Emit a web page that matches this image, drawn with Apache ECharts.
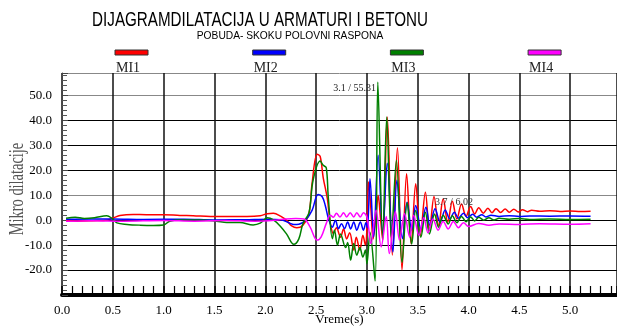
<!DOCTYPE html>
<html>
<head>
<meta charset="utf-8">
<script src="https://cdn.jsdelivr.net/npm/echarts@6/dist/echarts.min.js"></script>
<style>
  html, body { margin: 0; padding: 0; background: #fff; }
  #main { width: 617px; height: 327px; }
</style>
</head>
<body>
<div id="main"></div>
<script>
// naslov i legenda
var title = 'DIJAGRAMDILATACIJA U ARMATURI I BETONU';
var subtitle = 'POBUDA- SKOKU POLOVNI RASPONA';
var names = ['MI1', 'MI2', 'MI3', 'MI4'];
var colors = ['#ff0000', '#0000ff', '#008000', '#ff00ff'];

// [vreme (s), mikro dilatacije] - ocitano sa dijagrama
var mi1 = [[0.04,-0.1],[0.15,-0.4],[0.3,-0.2],[0.45,0.1],[0.51,1.0],[0.57,1.9],[0.7,2.3],[0.83,2.2],[1.0,2.2],[1.16,1.9],[1.29,1.8],[1.46,1.5],[1.62,1.5],[1.82,1.5],[1.95,1.8],[2.02,2.6],[2.08,2.8],[2.15,1.6],[2.21,-0.1],[2.26,-2.3],[2.31,-3.0],[2.37,-2.0],[2.43,2.7],[2.46,14.7],[2.51,26.4],[2.54,25.5],[2.57,17],[2.61,8.7],[2.64,-1.2],[2.67,-5.4],[2.70,-3.0],[2.74,-6.8],[2.77,-3.5],[2.80,-7.5],[2.83,-5],[2.87,-12],[2.895,-6.8],[2.93,-12],[2.96,-6],[2.985,-10],[3.0,-3],[3.016,15.3],[3.04,4],[3.06,-7.5],[3.09,2],[3.11,10],[3.135,0],[3.155,-8],[3.2,41.4],[3.25,-14],[3.30,29],[3.345,-19.9],[3.39,18.6],[3.435,-9.5],[3.48,14.6],[3.525,-6.2],[3.575,11.2],[3.615,-4.1],[3.66,9.5],[3.705,-2.1],[3.75,8.6],[3.795,-0.8],[3.84,7.6],[3.885,0.5],[3.93,6.5],[3.975,1.5],[4.02,5.5],[4.06,2.5],[4.10,5.0],[4.145,2.8],[4.19,4.8],[4.23,3.0],[4.27,4.6],[4.315,3.1],[4.36,4.5],[4.40,3.2],[4.445,4.4],[4.49,3.3],[4.53,4.2],[4.58,3.4],[4.62,4.0],[4.7,3.6],[4.8,3.8],[4.9,3.5],[5.0,3.7],[5.1,3.5],[5.2,3.6]];
var mi2 = [[0.04,0.4],[0.3,0.5],[0.5,0.5],[0.8,0.3],[1.2,0.4],[1.5,0.1],[1.8,0.2],[2.02,0.4],[2.15,0.2],[2.24,-1.2],[2.28,-1.7],[2.33,-1.6],[2.40,0.2],[2.46,3.9],[2.52,10.3],[2.56,9.4],[2.59,5.9],[2.62,0.8],[2.66,-2.8],[2.69,0],[2.72,-3.4],[2.75,-1.4],[2.78,-3.4],[2.81,-0.7],[2.84,-3.5],[2.87,-0.7],[2.90,-4],[2.935,-0.7],[2.965,-4],[2.99,-1],[3.005,-3],[3.03,16.6],[3.066,-6.7],[3.11,26],[3.155,-5],[3.20,22.8],[3.255,-12.8],[3.295,16],[3.35,-7.4],[3.395,7.2],[3.44,-4],[3.48,5.9],[3.53,-3.4],[3.58,5.2],[3.62,-2.1],[3.67,4.6],[3.72,-0.8],[3.77,4.1],[3.815,0.5],[3.86,3.2],[3.90,0.8],[3.95,2.8],[3.99,1.0],[4.04,2.4],[4.08,1.2],[4.13,2.2],[4.17,1.3],[4.22,2.0],[4.3,1.5],[4.4,1.8],[4.5,1.5],[4.6,1.7],[4.8,1.6],[5.0,1.7],[5.2,1.6]];
var mi3 = [[0.04,0.8],[0.13,1.2],[0.22,0.7],[0.32,1.0],[0.44,1.8],[0.49,0.8],[0.54,-1.1],[0.64,-1.7],[0.77,-2.0],[0.90,-2.1],[1.0,-1.9],[1.06,-0.4],[1.16,0.1],[1.36,0.1],[1.52,-0.4],[1.62,-0.9],[1.75,-0.9],[1.88,-1.9],[1.95,-1.2],[2.02,1.0],[2.08,0.1],[2.15,-2.5],[2.21,-5.6],[2.28,-9.7],[2.33,-7.5],[2.37,-1.4],[2.43,3],[2.47,16],[2.54,23.7],[2.57,22],[2.60,21],[2.62,9],[2.66,-7.4],[2.68,-4],[2.71,-10],[2.74,-5.5],[2.79,-11],[2.81,-9],[2.84,-16],[2.87,-9.4],[2.90,-14],[2.93,-11],[2.96,-14.8],[2.985,-12],[3.0,-17.5],[3.03,-4.8],[3.08,-24.4],[3.107,55.31],[3.155,-7.5],[3.195,41.4],[3.24,-7],[3.29,24],[3.345,-17],[3.395,7],[3.44,-9.5],[3.48,3.9],[3.53,-6.8],[3.575,3.2],[3.615,-5.5],[3.665,2.5],[3.705,-2.8],[3.75,2.0],[3.80,-1.5],[3.84,1.8],[3.885,-1.0],[3.93,1.5],[3.975,-0.6],[4.02,1.3],[4.06,-0.3],[4.10,1.2],[4.15,0],[4.2,1.0],[4.25,0.1],[4.3,0.8],[4.4,0.4],[4.5,0.7],[4.6,0.3],[4.8,0.5],[5.0,0.3],[5.2,0.4]];
var mi4 = [[0.04,-0.4],[0.3,-0.2],[0.6,-0.4],[1.0,-0.1],[1.3,-0.4],[1.6,-0.1],[1.9,-0.4],[2.1,0],[2.2,0.5],[2.3,0.7],[2.38,0.5],[2.44,-2.7],[2.51,-8],[2.55,-6.7],[2.60,-1.3],[2.64,2],[2.67,1.2],[2.70,2.8],[2.735,1.3],[2.77,3],[2.80,1.3],[2.835,3],[2.87,1.3],[2.90,3],[2.935,1.3],[2.965,3],[3.0,1.2],[3.04,-9.4],[3.09,4],[3.14,-10.7],[3.19,1.5],[3.22,-13.4],[3.28,3.4],[3.32,-8],[3.37,2.7],[3.42,-6.7],[3.46,2],[3.51,-6],[3.56,1],[3.60,-5],[3.65,0.5],[3.70,-4],[3.75,-0.5],[3.80,-3.5],[3.85,-0.5],[3.90,-3],[3.95,-1],[4.0,-2.5],[4.1,-1.3],[4.2,-2.0],[4.3,-1.5],[4.5,-1.7],[4.7,-1.4],[5.0,-1.6],[5.2,-1.4]];

// oznake na dijagramu
var peakMI3 = [3.1, 55.31];
var pointMI1 = [3.7, 6.02];

var serif = '"Liberation Serif", "Times New Roman", serif';
var sans = '"Liberation Sans", Arial, sans-serif';

var chart = echarts.init(document.getElementById('main'), null, { renderer: 'canvas' });

// legenda: traka iznad naziva
var legendEls = [];
names.forEach(function (n, i) {
  var x0 = 115 + i * 137.7;
  legendEls.push({
    type: 'rect', shape: { x: x0, y: 50, width: 33, height: 5 },
    style: { fill: colors[i], stroke: '#333', lineWidth: 1 }
  });
  legendEls.push({
    type: 'text', x: x0 + 13, y: 68, z: 100,
    style: { text: n, font: '14px ' + serif, fill: '#222', align: 'center', verticalAlign: 'middle' }
  });
});

var seriesData = [mi1, mi2, mi3, mi4];
var series = seriesData.map(function (d, i) {
  return {
    name: names[i],
    type: 'line',
    data: d,
    showSymbol: false,
    smooth: 0.35,
    lineStyle: { color: colors[i], width: 1.5 },
    itemStyle: { color: colors[i] },
    z: 3 + i
  };
});

// anotacije vrha
series[2].markPoint = {
  symbolSize: 0,
  silent: true,
  data: [{ coord: peakMI3 }],
  label: {
    show: true, position: 'left', distance: 1, offset: [0, 6],
    formatter: peakMI3[0] + ' / ' + peakMI3[1],
    fontFamily: serif, fontSize: 10, color: '#222'
  }
};
series[0].markPoint = {
  symbolSize: 0,
  silent: true,
  data: [{ coord: pointMI1 }],
  label: {
    show: true, position: 'right', distance: 0, offset: [-3, -3],
    formatter: pointMI1[0] + ' / ' + pointMI1[1],
    fontFamily: serif, fontSize: 10, color: '#333'
  }
};

var option = {
  backgroundColor: '#ffffff',
  animation: false,
  grid: { left: 62, right: 0, top: 73, bottom: 32, containLabel: false, outerBoundsMode: 'none' },
  xAxis: {
    type: 'value',
    min: 0,
    max: 5.46,
    interval: 0.5,
    name: 'Vreme(s)',
    nameLocation: 'middle',
    nameGap: 18,
    nameMoveOverlap: false,
    nameTextStyle: { fontFamily: serif, fontSize: 13, color: '#000' },
    axisLine: { onZero: false, lineStyle: { color: '#000', width: 4 } },
    axisTick: { inside: true, length: 9, lineStyle: { color: '#000', width: 1.5 } },
    minorTick: { show: true, splitNumber: 5, length: 9, lineStyle: { color: '#000', width: 1.2 } },
    splitLine: { show: true, lineStyle: { color: '#111', width: 1.5 } },
    axisLabel: {
      margin: 9,
      fontFamily: serif, fontSize: 13, color: '#000',
      formatter: function (v) {
        return Math.abs(v * 2 - Math.round(v * 2)) < 1e-6 ? v.toFixed(1) : '';
      }
    }
  },
  yAxis: {
    type: 'value',
    min: -30,
    max: 59,
    interval: 10,
    axisLine: { show: true, lineStyle: { color: '#444', width: 1 } },
    axisTick: { show: true, inside: true, length: 6, lineStyle: { color: '#444' } },
    minorTick: { show: true, splitNumber: 5, length: 5, lineStyle: { color: '#555' } },
    splitLine: {
      show: true,
      lineStyle: {
        color: ['#000', '#000', '#000', '#000', '#888', '#000', '#000', '#000', '#888', '#888'],
        width: 1
      }
    },
    axisLabel: {
      margin: 10,
      fontFamily: serif, fontSize: 13, color: '#000',
      formatter: function (v) {
        if (v <= -30 || v > 50 || Math.abs(v % 10) > 1e-6) return '';
        return v.toFixed(1);
      }
    }
  },
  graphic: [
    {
      type: 'text', x: 260, y: 20, scaleX: 0.76,
      style: { text: title, font: '20px ' + sans, fill: '#000', align: 'center', verticalAlign: 'middle' }
    },
    {
      type: 'text', x: 290, y: 36, scaleX: 0.93,
      style: { text: subtitle, font: '11px ' + sans, fill: '#000', align: 'center', verticalAlign: 'middle' }
    },
    {
      type: 'text', x: 18, y: 189, rotation: Math.PI / 2, scaleX: 0.72,
      style: { text: 'Mikro dilatacije', font: '20px ' + serif, fill: '#555', align: 'center', verticalAlign: 'middle' }
    }
  ].concat(legendEls),
  series: series
};

option && chart.setOption(option);
</script>
</body>
</html>
